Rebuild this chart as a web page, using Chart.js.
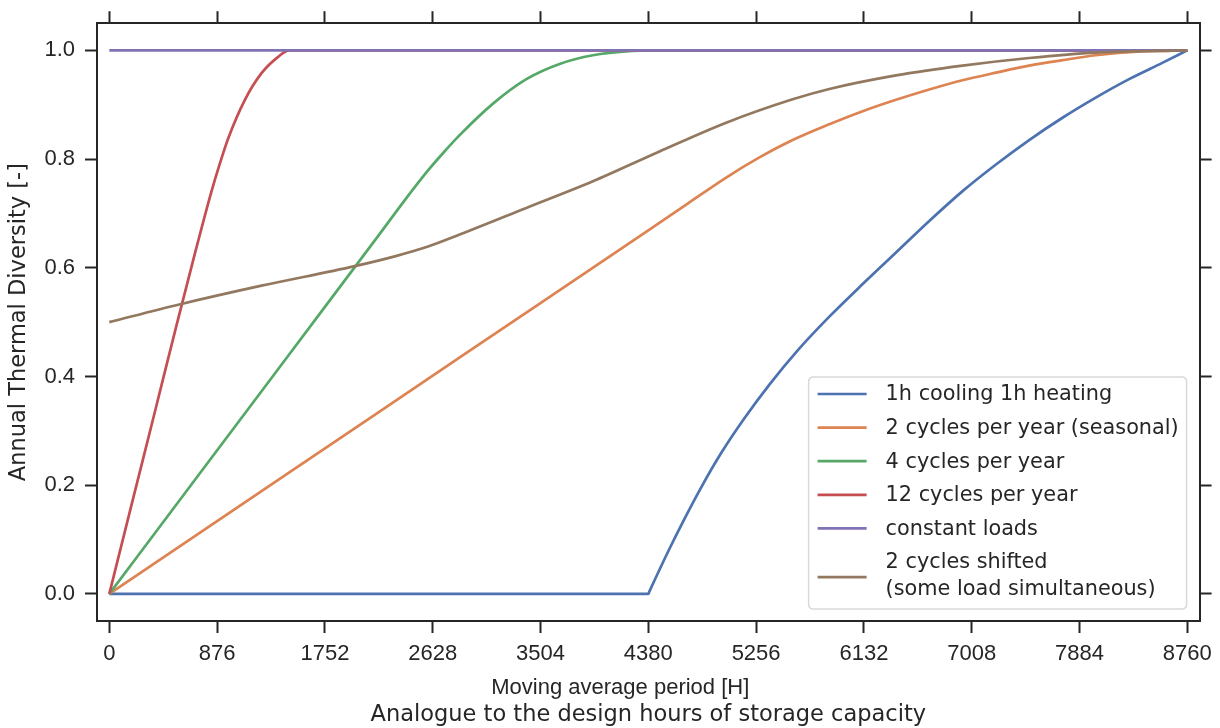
<!DOCTYPE html>
<html>
<head>
<meta charset="utf-8">
<script src="https://cdn.jsdelivr.net/npm/chart.js@4.4.1/dist/chart.umd.min.js"></script>
<style>
  html, body { margin: 0; padding: 0; background: #ffffff; }
  #wrap { width: 1220px; height: 728px; position: relative; }
</style>
</head>
<body>
<div id="wrap"><canvas id="c" width="1220" height="728"></canvas></div>
<script>
// ---------------- data ----------------
const seriesNames = [
  "1h cooling 1h heating",
  "2 cycles per year (seasonal)",
  "4 cycles per year",
  "12 cycles per year",
  "constant loads",
  "2 cycles shifted\n(some load simultaneous)"
];
const seriesColors = ["#4C72B0", "#DD8452", "#55A868", "#C44E52", "#8172B3", "#937860"];

const xTickValues = [0, 876, 1752, 2628, 3504, 4380, 5256, 6132, 7008, 7884, 8760];
const yTickValues = [0.0, 0.2, 0.4, 0.6, 0.8, 1.0];

const blueHours = [0, 4380, 4390, 4552, 4674, 4810, 4972, 5161, 5364, 5594, 5851, 6122, 6393, 6663, 6934, 7205, 7475, 7746, 8016, 8287, 8557, 8760];
const blueValues = [0, 0, 0.005, 0.083, 0.138, 0.196, 0.259, 0.323, 0.385, 0.448, 0.510, 0.570, 0.628, 0.686, 0.741, 0.790, 0.835, 0.876, 0.913, 0.947, 0.977, 1.0];

const orangeHours = [0, 1460, 2920, 4380, 4700, 5013, 5283, 5553, 5851, 6122, 6393, 6663, 6934, 7205, 7475, 7746, 8016, 8388, 8760];
const orangeValues = [0, 0.223, 0.446, 0.669, 0.718, 0.766, 0.803, 0.835, 0.864, 0.888, 0.909, 0.928, 0.945, 0.959, 0.972, 0.982, 0.991, 0.998, 1.0];

const greenHours = [0, 730, 1460, 2190, 2400, 2590, 2720, 2847, 3118, 3389, 3659, 3930, 4254, 4380, 8760];
const greenValues = [0, 0.220, 0.440, 0.660, 0.724, 0.779, 0.813, 0.844, 0.902, 0.947, 0.975, 0.991, 0.999, 1.0, 1.0];

const redHours = [0, 182, 365, 547, 700, 831, 900, 966, 1102, 1237, 1372, 1460, 8760];
const redValues = [0, 0.165, 0.330, 0.495, 0.630, 0.741, 0.793, 0.838, 0.909, 0.958, 0.988, 1.0, 1.0];

const purpleHours = [0, 8760];
const purpleValues = [1.0, 1.0];

const brownHours = [0, 560, 1237, 1995, 2320, 2590, 2847, 3389, 3930, 4471, 5013, 5553, 5851, 6393, 6934, 7475, 8016, 8760];
const brownValues = [0.5, 0.532, 0.567, 0.603, 0.621, 0.639, 0.661, 0.710, 0.759, 0.814, 0.867, 0.910, 0.929, 0.954, 0.972, 0.986, 0.996, 1.0];

const xTitleLines = ["Moving average period [H]", "Analogue to the design hours of storage capacity"];
const yTitle = "Annual Thermal Diversity [-]";

// ---------------- build chart ----------------
const FONT = "'Liberation Sans', Arial, Helvetica, sans-serif";
const FONT2 = "'DejaVu Sans', Verdana, sans-serif";
const INK = "#262626";
Chart.defaults.font.family = FONT;
Chart.defaults.color = INK;

const hourSets = [blueHours, orangeHours, greenHours, redHours, purpleHours, brownHours];
const valueSets = [blueValues, orangeValues, greenValues, redValues, purpleValues, brownValues];

const datasets = seriesNames.map((name, i) => ({
  label: name,
  data: hourSets[i].map((h, k) => ({ x: h, y: valueSets[i][k] })),
  borderColor: seriesColors[i],
  backgroundColor: seriesColors[i],
  borderWidth: 2.7,
  pointRadius: 0,
  fill: false,
  cubicInterpolationMode: 'monotone',
  order: seriesNames.length - i
}));

const gridCommon = {
  drawOnChartArea: false,
  drawTicks: true,
  tickLength: 12,
  tickWidth: 2,
  tickColor: INK
};
const borderCommon = { display: true, width: 2, color: INK };

function setXTicks(axis) { axis.ticks = xTickValues.map(v => ({ value: v })); }
function setYTicks(axis) { axis.ticks = yTickValues.map(v => ({ value: v })); }

const legendPlugin = {
  id: 'boxLegend',
  afterDraw(chart) {
    const ctx = chart.ctx;
    const ca = chart.chartArea;
    const bx = ca.right - 391, by = ca.bottom - 244, bw = 378, bh = 232, r = 5;
    ctx.save();
    ctx.beginPath();
    ctx.moveTo(bx + r, by);
    ctx.lineTo(bx + bw - r, by);
    ctx.quadraticCurveTo(bx + bw, by, bx + bw, by + r);
    ctx.lineTo(bx + bw, by + bh - r);
    ctx.quadraticCurveTo(bx + bw, by + bh, bx + bw - r, by + bh);
    ctx.lineTo(bx + r, by + bh);
    ctx.quadraticCurveTo(bx, by + bh, bx, by + bh - r);
    ctx.lineTo(bx, by + r);
    ctx.quadraticCurveTo(bx, by, bx + r, by);
    ctx.closePath();
    ctx.fillStyle = "rgba(255,255,255,0.8)";
    ctx.fill();
    ctx.lineWidth = 1.5;
    ctx.strokeStyle = "#d9d9d9";
    ctx.stroke();

    ctx.font = "20.8px " + FONT2;
    ctx.textBaseline = "middle";
    ctx.textAlign = "left";
    const lineH = 26.4, gap = 7.2;
    let y = by + 17;
    chart.data.datasets.forEach((ds) => {
      const lines = ds.label.split("\n");
      const blockMid = y + (lines.length - 1) * lineH / 2 + (lines.length > 1 ? 2 : 0);
      ctx.strokeStyle = ds.borderColor;
      ctx.lineWidth = 2.7;
      ctx.beginPath();
      ctx.moveTo(bx + 9, blockMid);
      ctx.lineTo(bx + 58, blockMid);
      ctx.stroke();
      ctx.fillStyle = INK;
      lines.forEach((ln, j) => ctx.fillText(ln, bx + 77, y + 1 + j * lineH));
      y += lines.length * lineH + gap;
    });

    // x-axis title (two lines)
    const cx = (ca.left + ca.right) / 2;
    ctx.textAlign = "center";
    ctx.font = "22px " + FONT;
    ctx.fillText(xTitleLines[0], cx - 28, 688);
    ctx.font = "22.5px " + FONT2;
    ctx.fillText(xTitleLines[1], cx, 715);
    ctx.restore();
  }
};

new Chart(document.getElementById('c'), {
  type: 'line',
  data: { datasets },
  options: {
    responsive: false,
    animation: false,
    devicePixelRatio: 1,
    layout: { padding: 0 },
    plugins: { legend: { display: false }, tooltip: { enabled: false }, title: { display: false } },
    scales: {
      x: {
        type: 'linear', position: 'bottom', min: -100, max: 8860,
        afterBuildTicks: setXTicks,
        afterFit(s) { s.height = 107; },
        ticks: { autoSkip: false, maxRotation: 0, minRotation: 0, padding: 8, font: { size: 22 }, color: INK,
                 callback: v => String(v) },
        grid: gridCommon, border: borderCommon,
        title: { display: false }
      },
      x2: {
        type: 'linear', position: 'top', min: -100, max: 8860,
        afterBuildTicks: setXTicks,
        afterFit(s) { s.height = 20; },
        ticks: { display: false },
        grid: gridCommon, border: borderCommon
      },
      y: {
        type: 'linear', position: 'left', min: -0.05, max: 1.05,
        afterBuildTicks: setYTicks,
        afterFit(s) { s.width = 97; },
        ticks: { padding: 10, font: { size: 22 }, color: INK, callback: v => Number(v).toFixed(1) },
        grid: gridCommon, border: borderCommon,
        title: { display: true, text: yTitle, font: { size: 22.5, family: FONT2 }, color: INK, padding: { top: 6, bottom: 0 } }
      },
      y2: {
        type: 'linear', position: 'right', min: -0.05, max: 1.05,
        afterBuildTicks: setYTicks,
        afterFit(s) { s.width = 19; },
        ticks: { display: false },
        grid: gridCommon, border: borderCommon
      }
    }
  },
  plugins: [legendPlugin]
});
</script>
</body>
</html>
